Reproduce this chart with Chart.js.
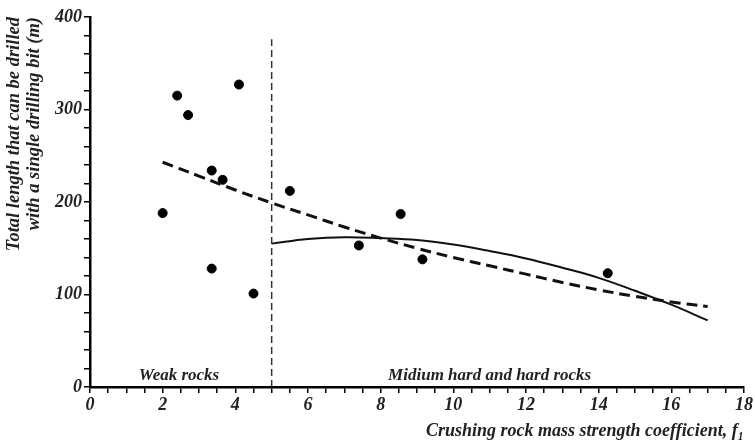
<!DOCTYPE html>
<html>
<head>
<meta charset="utf-8">
<script src="https://cdn.jsdelivr.net/npm/chart.js@4"></script>
<style>
html,body{margin:0;padding:0;background:#fff;}
#wrap{width:755px;height:442px;}
</style>
</head>
<body>
<div id="wrap"><canvas id="grafico" width="755" height="442"></canvas></div>
<script>
// puntos medidos
const puntosX=[2.0,2.4,2.7,4.1,3.35,3.65,3.35,4.5,5.5,7.4,8.55,9.15,14.25];
const puntosY=[188,315,294,327,234,224,128,101,212,153,187,138,123];
// curva discontinua (todas las rocas)
const curvaDX=[2,3,4,5,6,7,8,9,10,11,12,13,14,15,16,17];
const curvaDY=[243,228,213,199,186,173,161,150,140,131,122,113,105,98,92,87];
// curva continua (rocas duras)
const curvaSX=[5,6,7,8,9,10,11,12,13,14,15,16,17];
const curvaSY=[155,160,162,161,159,154,147,139,129,118,104,89,72];
// limite entre zonas
const limiteX=[5,5];
const limiteY=[0,376];
// textos de zona
const zonas=['Weak rocks','Midium hard and hard rocks'];
const zonasX=[2.45,11.0];
const zonasY=[12,12];

function aPuntos(xs,ys){
  let r=[];
  for(let i=0;i<xs.length;i++){ r.push({x:xs[i],y:ys[i]}); }
  return r;
}

const fuente='"Liberation Serif", "DejaVu Serif", serif';

const textoZonas={
  id:'textoZonas',
  afterDatasetsDraw(chart){
    const c=chart.ctx;
    const sx=chart.scales.x, sy=chart.scales.y;
    c.save();
    c.font='italic bold 17px '+fuente;
    c.fillStyle='#222';
    c.textAlign='center';
    c.textBaseline='middle';
    for(let i=0;i<zonas.length;i++){
      c.fillText(zonas[i],sx.getPixelForValue(zonasX[i]),sy.getPixelForValue(zonasY[i]));
    }
    c.restore();
  }
};

var ctx=document.getElementById('grafico').getContext('2d');
var grafico=new Chart(ctx,{
  type:'scatter',
  data:{
    datasets:[
      {
        data:aPuntos(limiteX,limiteY),
        showLine:true,
        borderColor:'#333',
        borderWidth:1.5,
        borderDash:[7,4],
        pointRadius:0
      },
      {
        data:aPuntos(curvaDX,curvaDY),
        showLine:true,
        borderColor:'#111',
        borderWidth:3,
        borderDash:[11,6],
        tension:0.4,
        pointRadius:0
      },
      {
        data:aPuntos(curvaSX,curvaSY),
        showLine:true,
        borderColor:'#111',
        borderWidth:2,
        tension:0.4,
        pointRadius:0
      },
      {
        data:aPuntos(puntosX,puntosY),
        backgroundColor:'#000',
        borderColor:'#000',
        pointRadius:4.5,
        pointHoverRadius:4.5
      }
    ]
  },
  options:{
    responsive:false,
    animation:false,
    layout:{padding:{top:17,right:10,left:0,bottom:0}},
    plugins:{legend:{display:false},tooltip:{enabled:false}},
    scales:{
      x:{
        type:'linear',
        min:0,max:18,
        border:{display:true,color:'#000',width:2.5},
        grid:{display:true,drawOnChartArea:false,drawTicks:true,tickLength:6,color:'#000',lineWidth:1.5},
        ticks:{
          stepSize:0.5,autoSkip:false,maxRotation:0,padding:2,
          color:'#222',
          font:{family:fuente,size:18,style:'italic',weight:'bold'},
          callback:function(v){ return v%2===0 ? v : ''; }
        },
        title:{
          display:true,align:'end',
          text:'Crushing rock mass strength coefficient, f\u2081',
          color:'#222',
          font:{family:fuente,size:18,style:'italic',weight:'bold'},
          padding:{top:0,bottom:0}
        },
        afterFit:function(s){ s.height=55; }
      },
      y:{
        type:'linear',
        min:0,max:400,
        border:{display:true,color:'#000',width:2.5},
        grid:{display:true,drawOnChartArea:false,drawTicks:true,tickLength:6,color:'#000',lineWidth:1.5},
        ticks:{
          stepSize:20,autoSkip:false,padding:2,
          color:'#222',
          font:{family:fuente,size:18,style:'italic',weight:'bold'},
          callback:function(v){ return v%100===0 ? v : ''; }
        },
        title:{
          display:true,align:'end',
          text:['Total length that can be drilled','with a single drilling bit (m)'],
          color:'#222',
          font:{family:fuente,size:18.5,style:'italic',weight:'bold',lineHeight:1.05},
          padding:{top:5,bottom:0}
        },
        afterFit:function(s){ s.width=90; }
      }
    }
  },
  plugins:[textoZonas]
});
</script>
</body>
</html>
